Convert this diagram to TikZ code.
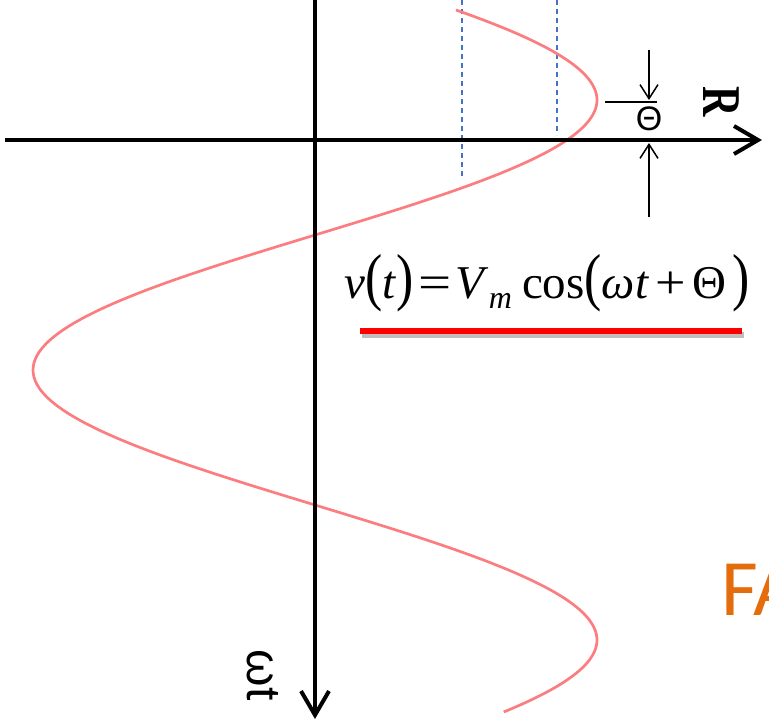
\documentclass[tikz,border=0pt]{standalone}
\usepackage{fontspec}
\setmainfont{Liberation Serif}
\setsansfont{Liberation Sans}
\newfontfamily\titlefont{Carlito}
\usetikzlibrary{arrows.meta}
\definecolor{lined}{RGB}{255, 0, 0}
\definecolor{wavepink}{RGB}{252, 125, 128}
\definecolor{guideblue}{RGB}{68, 114, 196}
\definecolor{titleorange}{RGB}{228, 108, 10}
\tikzset{
  axis/.style={line width=4pt, -{Straight Barb[length=24pt, width=28pt]}},
  wave/.style={line width=2.7pt, color=wavepink},
  guide/.style={line width=1.3pt, color=guideblue, dash pattern=on 5pt off 4pt},
  thinline/.style={line width=1.5pt},
  phasearrow/.style={line width=1.5pt, -{Straight Barb[length=14pt, width=18pt]}},
  underline/.style={line width=6pt, color=lined},
  ulshadow/.style={line width=6pt, color=black, opacity=0.25},
  eqn/.style={inner sep=0pt, font=\fontsize{47}{47}\selectfont},
  axislabel/.style={inner sep=0pt, rotate=-90},
  titletext/.style={inner sep=0pt, text=titleorange, font=\titlefont\fontsize{80}{80}\selectfont},
}
\newcommand{\tallparen}[1]{\scalebox{1.1}[1.35]{#1}}
\begin{document}
\begin{tikzpicture}[x=1pt, y=-1pt]
  \useasboundingbox (0,0) rectangle (769,721);
  \clip (0,0) rectangle (769,721);
  % axes
  \coordinate (xleft) at (5,140);
  \coordinate (xright) at (762,140);
  \coordinate (ytop) at (315,0);
  \coordinate (ybottom) at (315,719);
  % dashed guides
  \coordinate (g1top) at (462,0);
  \coordinate (g1bot) at (462,176);
  \coordinate (g2top) at (557,0);
  \coordinate (g2bot) at (557,135);
  \draw[guide] (g1top) -- (g1bot);
  \draw[guide] (g2top) -- (g2bot);
  % the wave
  \draw[wave] plot[domain=10:712, samples=200, smooth] ({315+282*cos((\x-100)/1.5)}, \x);
  \draw[axis] (xleft) -- (xright);
  \draw[axis] (ytop) -- (ybottom);
  % phase offset marks
  \coordinate (ptick1) at (605,102);
  \coordinate (ptick2) at (657,102);
  \coordinate (pa1) at (649,50);
  \coordinate (pa2) at (649,100);
  \coordinate (pb1) at (649,217);
  \coordinate (pb2) at (649,143);
  \draw[thinline] (ptick1) -- (ptick2);
  \draw[phasearrow] (pa1) -- (pa2);
  \draw[phasearrow] (pb1) -- (pb2);
  \node[inner sep=0pt, font=\sffamily\fontsize{34}{34}\selectfont] (theta) at (649,119) {Θ};
  % axis labels
  \node[axislabel, font=\bfseries\fontsize{42}{42}\selectfont] (rlabel) at (721,102) {\scalebox{1}[1.3]{R}};
  \node[axislabel, font=\sffamily\fontsize{48}{48}\selectfont] (wtlabel) at (263,675) {ωt};
  % equation
  \node[eqn, anchor=base] (vt) at (547,298)
    {\textit{v}\tallparen{(}\textit{t}\tallparen{)}\hspace{5pt}\scalebox{1.25}[1]{=}\hspace{4pt}\textit{V}\raisebox{-10pt}{\fontsize{32}{32}\selectfont\textit{m}}\hspace{10pt}cos\tallparen{(}\textit{ωt}\hspace{6pt}\scalebox{1.15}[1]{+}\hspace{7pt}Θ\hspace{6pt}\tallparen{)}};
  \coordinate (ul1) at (360,331);
  \coordinate (ul2) at (742,331);
  \draw[ulshadow] ([shift={(2,4)}]ul1) -- ([shift={(2,4)}]ul2);
  \draw[underline] (ul1) -- (ul2);
  % cut-off title
  \node[titletext, anchor=base west] (fa) at (721,615) {FA};
\end{tikzpicture}
\end{document}
